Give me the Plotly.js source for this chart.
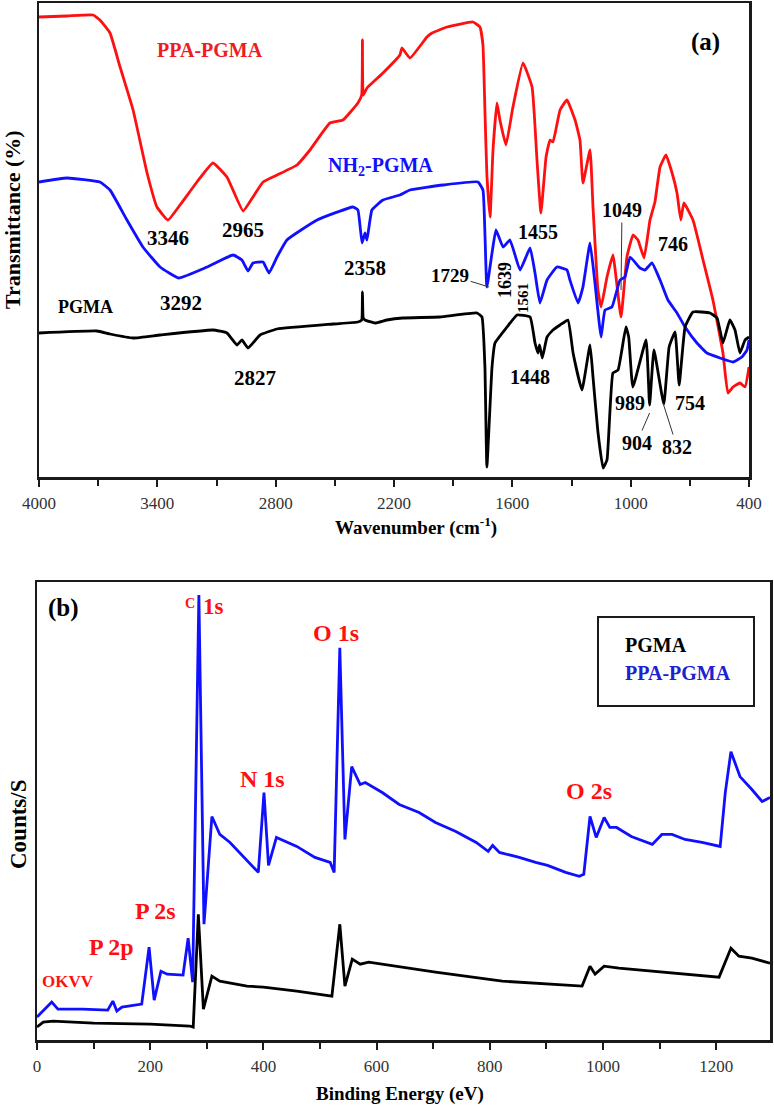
<!DOCTYPE html>
<html>
<head>
<meta charset="utf-8">
<script src="https://cdn.plot.ly/plotly-3.0.1.min.js"></script>
<style>html,body{margin:0;padding:0;background:#fff;}#chart{width:774px;height:1111px;}</style>
</head>
<body>
<div id="chart"></div>
<script>
// ---------- Panel (a): FTIR ----------
const wnPPA = [4000,3858,3726,3691,3640,3589,3523,3452,3402,3346,3285,3199,3118,3047,2965,2915,2864,2793,2692,2626,2525,2459,2383,2364,2360,2356,2337,2256,2170,2160,2119,2033,2007,1931,1800,1764,1749,1739,1729,1713,1698,1678,1663,1632,1597,1546,1500,1475,1455,1429,1409,1394,1358,1323,1282,1257,1242,1206,1191,1166,1150,1120,1090,1049,1019,988,963,932,902,877,851,821,790,765,746,730,684,633,583,532,507,481,446,420,400];
const tPPA = [460,461,462,457,444,410,367,304,270,257,272,295,314,300,266,280,295,302,312,327,354,357,374,382,437,382,389,404,422,429,419,440,444,450,455,450,432,367,302,260,327,374,357,332,370,414,390,317,264,320,337,335,367,377,357,337,294,327,270,187,170,200,222,160,220,242,237,219,257,275,310,322,304,284,257,274,257,217,177,124,84,90,94,90,110];

const wnNH2 = [4000,3858,3691,3640,3554,3473,3386,3292,3148,3016,2971,2940,2915,2864,2834,2793,2743,2590,2408,2383,2362,2347,2337,2312,2256,2170,2119,1951,1774,1749,1739,1729,1703,1683,1647,1612,1561,1510,1485,1460,1424,1374,1323,1308,1267,1242,1206,1181,1150,1130,1095,1054,1029,1003,953,927,892,851,811,765,724,664,613,547,481,436,410,400];
const tNH2 = [295,299,295,287,257,230,210,199,210,222,217,206,214,215,204,220,237,257,270,267,234,244,237,267,277,282,287,292,295,287,244,190,224,247,230,237,207,229,204,174,197,210,207,197,174,190,234,194,140,167,170,197,200,220,209,207,214,197,177,164,150,134,124,119,115,120,127,137];

const wnPGMA = [4000,3706,3640,3523,3386,3118,3047,2996,2971,2940,2879,2793,2509,2383,2364,2360,2356,2347,2296,2236,2155,1967,1779,1754,1739,1729,1703,1688,1627,1576,1510,1485,1470,1462,1448,1424,1394,1358,1318,1292,1247,1206,1191,1166,1140,1120,1090,1064,1024,1010,989,922,904,882,832,805,775,754,724,684,598,562,532,497,471,446,420,400];
const tPGMA = [144,146,143,139,142,147,144,132,137,129,142,148,153,155,157,185,159,157,154,157,159,160,164,160,110,10,110,134,150,162,160,134,124,132,119,140,147,152,157,124,87,132,100,45,9,17,104,107,150,140,90,137,72,127,73,130,145,92,150,165,164,159,134,157,147,124,137,140];

const ftirTicks = [4000,3400,2800,2200,1600,1000,400];

// ---------- Panel (b): XPS survey ----------
const bePPA = [0,26,37,80,125,134,141,150,185,198,207,219,230,258,267,275,286,295,309,323,341,364,391,401,409,423,459,491,518,525,535,544,556,571,580,610,640,675,704,740,776,797,805,817,852,881,902,934,958,966,977,988,1002,1012,1024,1050,1087,1104,1122,1145,1175,1207,1216,1226,1242,1263,1281,1295];
const cPPA = [23,38,31,31,30,39,29,33,36,93,40,69,66,65,102,58,446,116,224,206,198,184,168,248,175,203,194,183,178,168,393,201,274,256,258,248,236,228,218,209,198,189,195,188,183,178,175,168,164,166,224,203,223,213,213,204,196,206,206,201,198,194,248,289,264,251,239,243];

const bePGMA = [0,11,28,100,200,270,276,285,294,309,323,371,400,459,521,535,544,557,571,586,704,822,963,977,986,1002,1028,1205,1226,1240,1263,1295];
const cPGMA = [13,18,19,17,16,14,13,126,31,64,59,54,53,49,44,116,54,81,76,78,68,59,54,74,66,74,72,63,92,84,82,77];

const xpsTicks = [0,200,400,600,800,1000,1200];

// ---------- styling ----------
const SERIF = 'Liberation Serif, Times New Roman, serif';
const RED = '#ff1010';
const BLUE = '#1010ff';
const BLACK = '#000000';
const LW = 2.8;
const ftirLine = (c) => ({color:c, width:LW, shape:'spline', smoothing:0.35});

const traces = [
  {x: wnPPA, y: tPPA, xaxis:'x', yaxis:'y', mode:'lines', name:'PPA-PGMA', line:ftirLine(RED)},
  {x: wnNH2, y: tNH2, xaxis:'x', yaxis:'y', mode:'lines', name:'NH2-PGMA', line:ftirLine(BLUE)},
  {x: wnPGMA, y: tPGMA, xaxis:'x', yaxis:'y', mode:'lines', name:'PGMA', line:ftirLine(BLACK)},
  {x: bePGMA, y: cPGMA, xaxis:'x2', yaxis:'y2', mode:'lines', name:'PGMA', line:{color:BLACK, width:LW}},
  {x: bePPA, y: cPPA, xaxis:'x2', yaxis:'y2', mode:'lines', name:'PPA-PGMA', line:{color:BLUE, width:LW}}
];

const H = 1111, W = 774;
const frame = {showline:true, mirror:true, linecolor:'#1a1a1a', linewidth:2.5, showgrid:false, zeroline:false};

function lab(text, x, y, size, color, ref, extra) {
  return Object.assign({text:'<b>'+text+'</b>', x:x, y:y, xref:ref[0], yref:ref[1], showarrow:false,
    xanchor:'center', yanchor:'middle',
    font:{family:SERIF, size:size, color:color}}, extra || {});
}
const A = ['x','y'], B = ['x2','y2'], P = ['paper','paper'];
const lead = {showarrow:true, arrowhead:0, arrowwidth:1, arrowcolor:'#333'};

const annotations = [
  // panel (a) labels
  lab('(a)', 623, 435, 25, BLACK, A),
  lab('PPA-PGMA', 3133, 427, 20, '#ee1c24', A),
  lab('NH<sub>2</sub>-PGMA', 2266, 310, 20, BLUE, A),
  lab('PGMA', 3762, 170, 18, BLACK, A),
  lab('3346', 3346, 239, 21, BLACK, A),
  lab('2965', 2965, 247, 21, BLACK, A),
  lab('3292', 3280, 174, 21, BLACK, A),
  lab('2358', 2347, 209, 21, BLACK, A),
  lab('2827', 2905, 99, 21, BLACK, A),
  lab('1639', 1637, 197, 18, BLACK, A, {textangle:-90}),
  lab('1561', 1546, 179, 15, BLACK, A, {textangle:-90}),
  lab('1455', 1470, 245, 20, BLACK, A),
  lab('746', 785, 233, 20, BLACK, A),
  lab('1448', 1510, 100, 20, BLACK, A),
  lab('989', 1003, 74, 20, BLACK, A),
  lab('754', 699, 74, 20, BLACK, A),
  lab('1729', 1718, 190, 19, BLACK, A, Object.assign({ax:-39, ay:-12}, lead)),
  lab('1049', 1049, 187, 20, BLACK, A, Object.assign({ax:1, ay:-80}, lead)),
  lab('904', 904, 64, 20, BLACK, A, Object.assign({ax:-13, ay:30}, lead)),
  lab('832', 836, 74, 20, BLACK, A, Object.assign({ax:14, ay:44}, lead)),
  // panel (a) axis titles
  lab('Wavenumber (cm<sup>-1</sup>)', 416/W, (H-527)/H, 19, BLACK, P),
  lab('Transmittance (%)', 13/W, (H-220)/H, 22, BLACK, P, {textangle:-90}),
  // panel (b) labels
  lab('(b)', 46, 433, 25, BLACK, B),
  lab('C', 270, 437, 14, RED, B),
  lab('1s', 312, 434, 23, RED, B),
  lab('O 1s', 528, 408, 24, RED, B),
  lab('N 1s', 399, 262, 24, RED, B),
  lab('O 2s', 975, 250, 24, RED, B),
  lab('P 2s', 210, 129, 24, RED, B),
  lab('P 2p', 132, 93, 24, RED, B),
  lab('OKVV', 55, 59, 17, RED, B),
  // legend text (b)
  lab('PGMA', 623/W, (H-645)/H, 20, BLACK, P, {xanchor:'left'}),
  lab('PPA-PGMA', 623/W, (H-673)/H, 20, '#2020d0', P, {xanchor:'left'}),
  // panel (b) axis titles
  lab('Binding Energy (eV)', 400/W, (H-1094)/H, 19, BLACK, P),
  lab('Counts/S', 18/W, (H-825)/H, 23, BLACK, P, {textangle:-90})
];

const tickStyle = {
  ticks: 'outside', ticklen: 7, tickwidth: 2, tickcolor: '#1a1a1a',
  ticklabelstandoff: 2,
  tickfont: {family: SERIF, size: 17, color: '#333'}
};

const layout = {
  width: W, height: H,
  margin: {l:0, r:0, t:0, b:0},
  paper_bgcolor: '#fff', plot_bgcolor: '#fff',
  showlegend: false,
  xaxis: Object.assign({}, frame, tickStyle, {
    domain: [39/W, 749/W], range: [4000, 400], anchor: 'y',
    tickvals: ftirTicks, ticktext: ftirTicks.map(String),
    minor: {tick0: 400, dtick: 300, ticks: 'outside', ticklen: 6, tickwidth: 2, tickcolor: '#1a1a1a', showgrid: false}
  }),
  yaxis: Object.assign({}, frame, {
    domain: [(H-477)/H, (H-3)/H], range: [0, 474], anchor: 'x',
    ticks: '', showticklabels: false
  }),
  xaxis2: Object.assign({}, frame, tickStyle, {
    domain: [37/W, 770/W], range: [0, 1295], anchor: 'y2',
    tickvals: xpsTicks, ticktext: xpsTicks.map(String),
    minor: {tick0: 0, dtick: 100, ticks: 'outside', ticklen: 6, tickwidth: 2, tickcolor: '#1a1a1a', showgrid: false}
  }),
  yaxis2: Object.assign({}, frame, {
    domain: [(H-1040)/H, (H-582)/H], range: [0, 459], anchor: 'x2',
    ticks: '', showticklabels: false
  }),
  shapes: [
    {type:'rect', xref:'paper', yref:'paper', x0:598/W, x1:754/W, y0:(H-706)/H, y1:(H-617)/H,
     line:{color:'#1a1a1a', width:2}, fillcolor:'rgba(0,0,0,0)'}
  ],
  annotations: annotations
};

Plotly.newPlot('chart', traces, layout, {staticPlot: true, displayModeBar: false});
</script>
</body>
</html>
